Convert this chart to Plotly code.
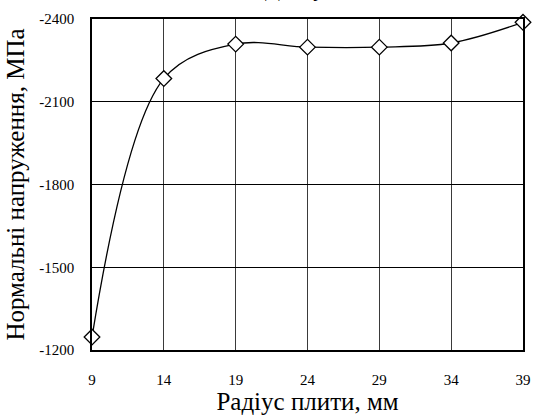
import plotly.graph_objects as go

radius_mm = [9, 14, 19, 24, 29, 34, 39]
stress_mpa = [-1247, -2184, -2309, -2298, -2298, -2313, -2388]
x_ticks = [9, 14, 19, 24, 29, 34, 39]
y_ticks = [-2400, -2100, -1800, -1500, -1200]

font_family = "'Times New Roman', 'Liberation Serif', 'DejaVu Serif', serif"

fig = go.Figure()
fig.add_trace(go.Scatter(
    x=radius_mm, y=stress_mpa,
    mode="lines+markers",
    line=dict(color="black", width=1.3, shape="spline", smoothing=1.0),
    marker=dict(symbol="diamond", size=12, color="white",
                line=dict(color="black", width=1.3)),
    cliponaxis=False,
    showlegend=False,
))

fig.update_layout(
    width=536, height=419,
    margin=dict(l=92, r=5, t=19, b=69),
    paper_bgcolor="white", plot_bgcolor="white",
    font=dict(family=font_family, color="black", size=15),
    annotations=[dict(
        text="Дані у", xref="paper", yref="paper",
        x=0.47, y=1.0, yshift=16, yanchor="bottom", xanchor="center",
        showarrow=False, font=dict(size=22, family=font_family),
    )],
)
fig.update_xaxes(
    range=[9, 39], tickmode="array", tickvals=x_ticks,
    ticktext=[str(v) for v in x_ticks], ticklabeloverflow="allow",
    showgrid=True, gridcolor="#3a3a3a", gridwidth=1,
    showline=True, linecolor="black", linewidth=1.5, mirror=True,
    ticks="", ticklabelstandoff=15, zeroline=False,
    title=dict(text="Радіус плити, мм", font=dict(size=25), standoff=4),
)
fig.update_yaxes(
    range=[-1200, -2400], tickmode="array", tickvals=y_ticks,
    ticktext=[str(v) for v in y_ticks], ticklabeloverflow="allow",
    showgrid=True, gridcolor="black", gridwidth=1,
    showline=True, linecolor="black", linewidth=1.5, mirror=True,
    ticks="", ticklabelstandoff=13, zeroline=False,
    title=dict(text="Нормальні напруження, МПа", font=dict(size=25), standoff=8),
)

fig.write_html("out.html")
